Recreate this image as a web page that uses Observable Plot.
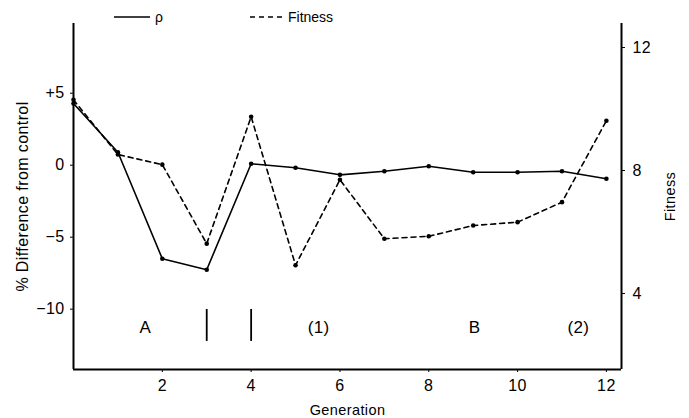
<!DOCTYPE html>
<html><head><meta charset="utf-8">
<script src="https://cdn.jsdelivr.net/npm/d3@7"></script>
<script src="https://cdn.jsdelivr.net/npm/@observablehq/plot@0.6"></script>
<style>
body{margin:0;background:#fff;font-family:"Liberation Sans",Arial,sans-serif;}
#wrap{position:relative;width:689px;height:418px;}
#legend{position:absolute;left:0;top:0;width:689px;height:30px;font-size:14px;color:#000;}
.item{position:absolute;top:9px;display:flex;align-items:center;gap:5px;}
svg text{letter-spacing:0.4px;}
</style></head><body>
<div id="wrap"><div id="chart"></div>
<div id="legend">
  <div class="item" style="left:114px"><svg width="36" height="16"><line x1="0" x2="36" y1="8" y2="8" stroke="#000" stroke-width="1.5"/></svg><span>ρ</span></div>
  <div class="item" style="left:250px"><svg width="33" height="16"><line x1="0" x2="33" y1="8" y2="8" stroke="#000" stroke-width="1.5" stroke-dasharray="5,4"/></svg><span>Fitness</span></div>
</div></div>
<script>
const generation = [0,1,2,3,4,5,6,7,8,9,10,11,12];
const rho = [4.28, 0.9, -6.5, -7.26, 0.1, -0.18, -0.67, -0.42, -0.07, -0.49, -0.49, -0.42, -0.94];
const fitness = [10.3, 8.52, 8.19, 5.62, 9.75, 4.92, 7.70, 5.78, 5.86, 6.21, 6.32, 6.97, 9.62];
const xTicks = [2,4,6,8,10,12];
const rhoTicks = [5,0,-5,-10];
const fitnessTicks = [4,8,12];
const annotationLabels = ["A","(1)","B","(2)"];
const annotationGen = [1.62,5.52,9.03,11.37];
const dividerGen = [3,4];

const xMax = 12.34, yMin = -14.19, yMax = 9.84;
const annY = -11.27, divTop = -10.02, divBot = -12.24;
// fitness (right axis) expressed in left-axis units
const fitToRho = d3.scaleLinear([4,12],[-8.91, 8.17]);

const rows = generation.map((g,i)=>({g, rho: rho[i], fit: fitToRho(fitness[i])}));
const ann = annotationLabels.map((t,i)=>({g: annotationGen[i], t}));

const fmtLeft = d => d > 0 ? "+" + d : d < 0 ? "\u2212" + Math.abs(d) : "0";

const chart = Plot.plot({
  width: 689, height: 418,
  marginLeft: 73, marginRight: 68, marginTop: 23, marginBottom: 49,
  style: {fontFamily: '"Liberation Sans", Arial, sans-serif', fontSize: "16px", color: "#000", background: "#fff"},
  x: {domain: [0, xMax]},
  y: {domain: [yMin, yMax]},
  marks: [
    Plot.axisX({ticks: xTicks, tickSize: 3, tickPadding: 7, fontSize: 16, label: null}),
    Plot.axisX({ticks: [], tickSize: 0, fontSize: 14.5, label: "Generation", labelAnchor: "center", labelArrow: "none", labelOffset: 45}),
    Plot.axisY({ticks: rhoTicks, tickFormat: fmtLeft, anchor: "left", tickSize: 3, tickPadding: 6, fontSize: 16, label: null}),
    Plot.axisY({ticks: [], anchor: "left", tickSize: 0, fontSize: 16, label: "% Difference from control", labelAnchor: "center", labelArrow: "none", labelOffset: 57}),
    Plot.axisY({ticks: fitnessTicks.map(fitToRho), tickFormat: d => Math.round(fitToRho.invert(d)), anchor: "right", tickSize: 3, tickPadding: 8, fontSize: 16, label: null}),
    Plot.axisY({ticks: [], anchor: "right", tickSize: 0, fontSize: 14.5, label: "Fitness", labelAnchor: "center", labelArrow: "none", labelOffset: 53}),
    Plot.ruleX([0], {strokeWidth: 2}),
    Plot.ruleX([xMax], {strokeWidth: 2}),
    Plot.ruleY([yMin], {strokeWidth: 2}),
    Plot.line(rows, {x: "g", y: "rho", stroke: "#000", strokeWidth: 1.6}),
    Plot.line(rows, {x: "g", y: "fit", stroke: "#000", strokeWidth: 1.6, strokeDasharray: "5,4"}),
    Plot.dot(rows, {x: "g", y: "rho", r: 2.3, fill: "#000"}),
    Plot.dot(rows, {x: "g", y: "fit", r: 2.3, fill: "#000"}),
    Plot.ruleX(dividerGen, {y1: divTop, y2: divBot, strokeWidth: 1.8}),
    Plot.text(ann, {x: "g", y: annY, text: "t", fontSize: 17})
  ]
});
document.getElementById("chart").appendChild(chart);
</script>
</body></html>
